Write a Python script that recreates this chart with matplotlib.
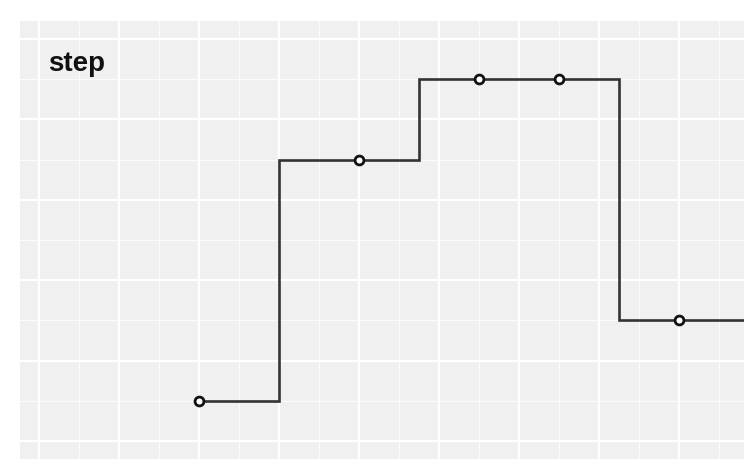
import matplotlib.pyplot as plt
from matplotlib.ticker import MultipleLocator

# data (last point sits beyond the visible panel)
X_VALUES = [4, 8, 11, 13, 16, 19]
Y_VALUES = [1, 7, 9, 9, 3, 3]
TITLE = "step"

W, H = 744, 474
DPI = 100

fig = plt.figure(figsize=(W / DPI, H / DPI), dpi=DPI)
fig.patch.set_facecolor("white")

# panel: left 20px, top 22px, bottom ~459px; 40 px per x unit, runs off the right edge
x_min, x_max = -0.475, 19.475
y_min, y_max = -0.45, 10.45
left_px, top_px, bottom_px = 20, 21, 459
width_px = (x_max - x_min) * 40
ax = fig.add_axes([left_px / W, (H - bottom_px) / H, width_px / W, (bottom_px - top_px) / H])
ax.set_facecolor("#f0f0f0")
ax.set_xlim(x_min, x_max)
ax.set_ylim(y_min, y_max)

ax.xaxis.set_major_locator(MultipleLocator(2))
ax.xaxis.set_minor_locator(MultipleLocator(1))
ax.yaxis.set_major_locator(MultipleLocator(2))
ax.yaxis.set_minor_locator(MultipleLocator(1))
ax.grid(which="major", color="white", linewidth=1.6)
ax.grid(which="minor", color="white", linewidth=0.8, alpha=0.8)
ax.set_axisbelow(True)
ax.tick_params(which="both", length=0, labelbottom=False, labelleft=False)
for spine in ax.spines.values():
    spine.set_visible(False)

ax.step(X_VALUES, Y_VALUES, where="mid", color="#333333", linewidth=1.9,
        solid_joinstyle="miter")
ax.plot(X_VALUES, Y_VALUES, linestyle="none", marker="o", markersize=6.4,
        markerfacecolor="white", markeredgecolor="#111111", markeredgewidth=2.0)

fig.text(48 / W, (H - 71) / H, TITLE, fontsize=20, fontweight="bold",
         family=["Liberation Sans", "DejaVu Sans"], color="#111111",
         ha="left", va="baseline")

fig.savefig("out.png", dpi=DPI)
